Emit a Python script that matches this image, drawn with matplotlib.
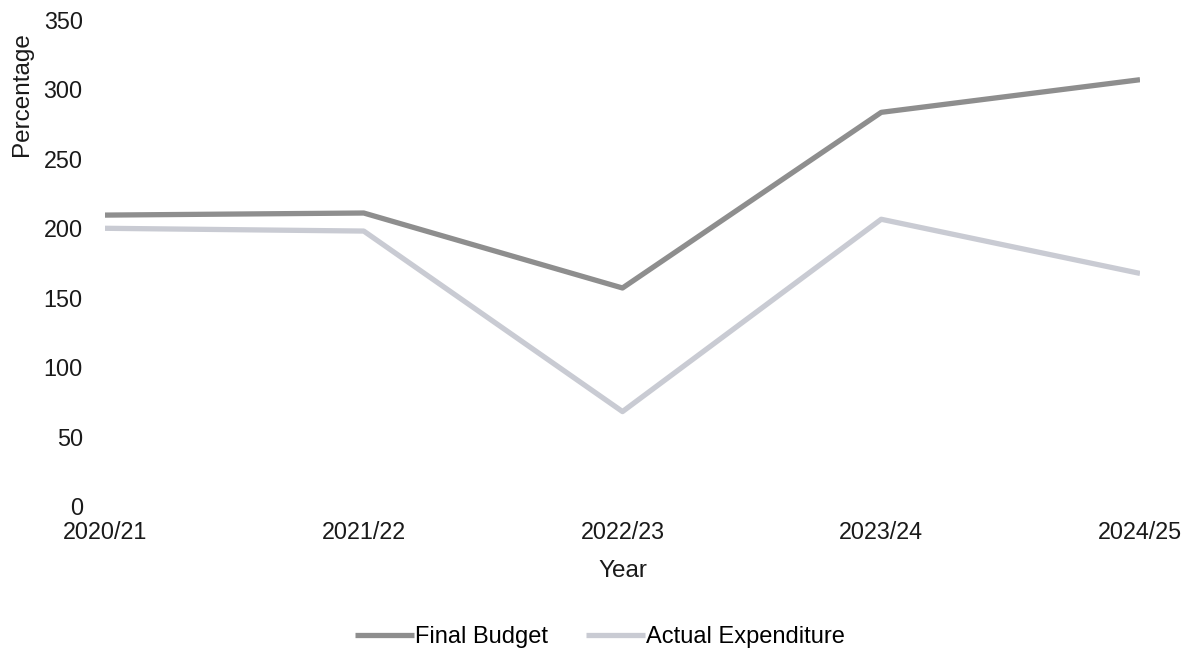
import matplotlib
matplotlib.use('Agg')
import matplotlib.pyplot as plt

years = ['2020/21', '2021/22', '2022/23', '2023/24', '2024/25']
final_budget = [209.5, 211, 157, 283.5, 307]
actual_expenditure = [200, 198, 68, 206.5, 167.5]

plt.rcParams['font.family'] = ['Liberation Sans', 'DejaVu Sans']

fig = plt.figure(figsize=(12, 6.54), dpi=100)
ax = fig.add_axes([105 / 1200, 1 - 506 / 654, 1035 / 1200, 486 / 654])

x = range(len(years))
ax.plot(x, final_budget, color='#8e8e8e', lw=3.8, label='Final Budget', solid_capstyle='butt')
ax.plot(x, actual_expenditure, color='#c9cbd3', lw=3.8, label='Actual Expenditure', solid_capstyle='butt')

ax.set_xlim(0, len(years) - 1)
ax.set_ylim(0, 350)
ax.set_xticks(list(x))
ax.set_xticklabels(years)
ax.set_yticks(range(0, 351, 50))

for s in ax.spines.values():
    s.set_visible(False)
ax.tick_params(axis='both', length=0, labelsize=16.8, colors='#1a1a1a')
ax.tick_params(axis='x', pad=11)
ax.tick_params(axis='y', pad=16)

ax.set_xlabel('Year', fontsize=17.5, color='#1a1a1a', labelpad=11)
ax.set_ylabel('Percentage', fontsize=17.5, color='#1a1a1a')
ax.yaxis.set_label_coords(-0.0696, 0.848)

fig.legend(loc='center', bbox_to_anchor=(0.5, 0.026), ncol=2, frameon=False,
           fontsize=17, handlelength=2.5, handletextpad=0.05, columnspacing=1.6)

fig.savefig('out.png', dpi=100, facecolor='white')
